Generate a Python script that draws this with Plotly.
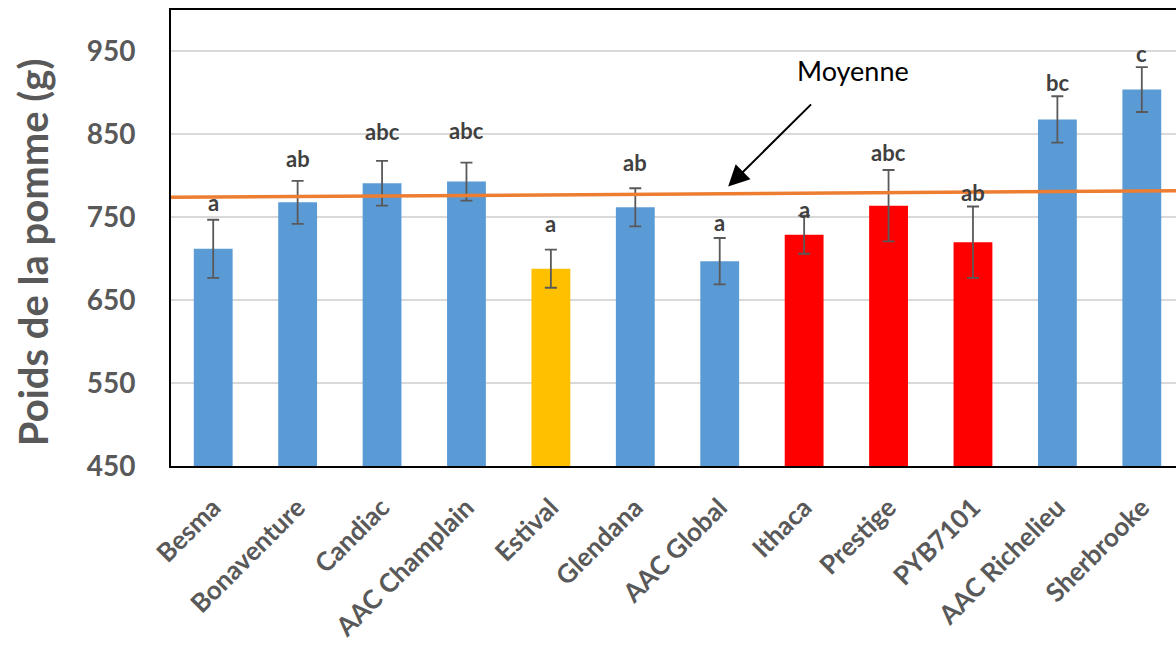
import plotly.graph_objects as go

# Cultivars and mean apple weight (g) with standard error
cultivars = ["Besma", "Bonaventure", "Candiac", "AAC Champlain", "Estival", "Glendana",
             "AAC Global", "Ithaca", "Prestige", "PYB7101", "AAC Richelieu", "Sherbrooke"]
poids = [712, 768, 791, 793, 688, 762, 697, 729, 764, 720, 868, 904]
erreur = [35, 26, 27, 23, 23, 23, 28, 23, 43, 43, 28, 27]
lettres = ["a", "ab", "abc", "abc", "a", "ab", "a", "a", "abc", "ab", "bc", "c"]
groupe = ["std", "std", "std", "std", "early", "std", "std", "new", "new", "new", "std", "std"]

# Reference line ("Moyenne") end values
moyenne_debut = 774
moyenne_fin = 782

y_ticks = [450, 550, 650, 750, 850, 950]

couleurs = {"std": "#5B9BD5", "early": "#FFC000", "new": "#FF0000"}
# gap between error-bar top and the significance letter (g)
ecart_lettre = [21, 27, 36, 39, 32, 31, 19, 7, 21, 17, 17, 16]

x_idx = list(range(len(cultivars)))
font_main = "Lato, 'Open Sans', sans-serif"
gris = "#595959"

fig = go.Figure()
fig.add_trace(go.Bar(
    x=x_idx, y=poids, width=0.46,
    marker=dict(color=[couleurs[g] for g in groupe], line=dict(width=0)),
    error_y=dict(type="data", array=erreur, visible=True,
                 color="#595959", thickness=1.8, width=6),
    showlegend=False,
))

fig.add_trace(go.Scatter(
    x=[-0.55, len(cultivars) - 0.5], y=[moyenne_debut, moyenne_fin],
    mode="lines", line=dict(color="#ED7D31", width=3.5),
    showlegend=False, cliponaxis=False,
))

for i, (v, e, l, d) in enumerate(zip(poids, erreur, lettres, ecart_lettre)):
    fig.add_annotation(x=i, y=v + e + d, text=f"<b>{l}</b>", showarrow=False,
                       font=dict(family=font_main, size=22, color="#404040"),
                       xref="x", yref="y")

fig.add_annotation(x=6.1, y=787, ax=7.1, ay=888, xref="x", yref="y",
                   axref="x", ayref="y", text="", showarrow=True,
                   arrowhead=2, arrowsize=2.1, arrowwidth=2, arrowcolor="black")
fig.add_annotation(x=7.58, y=927, xref="x", yref="y", text="Moyenne",
                   showarrow=False, font=dict(family=font_main, size=27, color="black"))

# Y-axis title
fig.add_annotation(x=-0.1373, y=0.469, xref="paper", yref="paper",
                   text="<b>Poids de la pomme (g)</b>", textangle=-90,
                   showarrow=False, xanchor="center", yanchor="middle",
                   font=dict(size=40, color=gris, family=font_main))

fig.update_layout(
    width=1176, height=653,
    margin=dict(l=171, r=0, t=10, b=187),
    paper_bgcolor="white", plot_bgcolor="white",
    font=dict(family=font_main, color=gris),
)
fig.update_xaxes(
    range=[-0.5, 11.405],
    tickmode="array", tickvals=x_idx, ticktext=[f"<b>{c}</b>" for c in cultivars],
    tickangle=-45, tickfont=dict(size=26, color=gris, family=font_main),
    showline=True, linecolor="black", linewidth=2, mirror=True,
    showgrid=False, ticks="", ticklabelstandoff=14,
)
fig.update_yaxes(
    range=[450, 1000],
    tickmode="array", tickvals=y_ticks, ticktext=[f"<b>{t}</b>" for t in y_ticks],
    tickfont=dict(size=28, color=gris, family=font_main),
    showline=True, linecolor="black", linewidth=2,
    showgrid=True, gridcolor="#D9D9D9", gridwidth=1.5,
    ticks="", ticklabelstandoff=28, zeroline=False,
)

fig.write_html("out.html")
